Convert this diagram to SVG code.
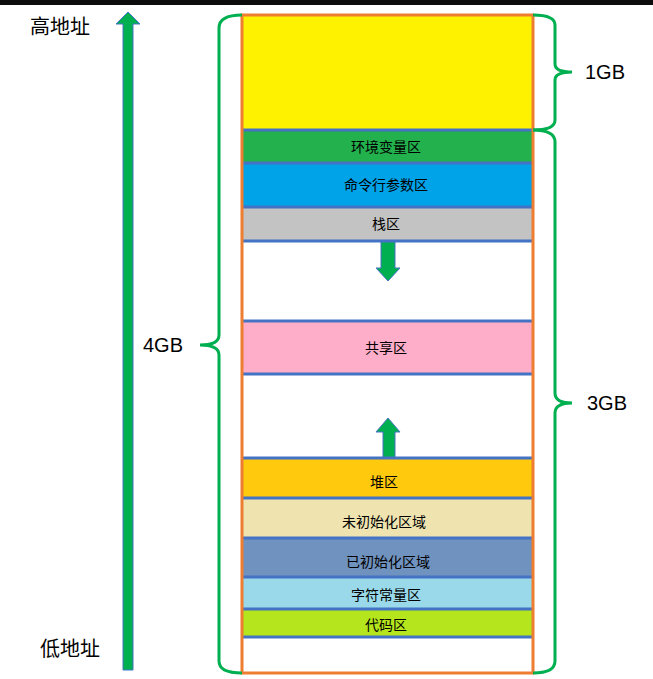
<svg xmlns="http://www.w3.org/2000/svg" width="653" height="679" viewBox="0 0 653 679">
<style>
.r{stroke:none}
.sep{stroke:#4472C4;stroke-width:3}
.t{font-family:"Noto Sans CJK SC",sans-serif;font-size:14px;text-anchor:middle;fill:#000}
.big{font-family:"Liberation Serif","Noto Sans CJK SC",serif;font-size:20px;fill:#000}
.gb{font-family:"Liberation Sans",sans-serif;font-size:20px;fill:#000}
.br{fill:none;stroke:#00B050;stroke-width:3}
.ar{fill:#00B050;stroke:#4472C4;stroke-width:1}
</style>
<rect x="0" y="0" width="653" height="5" fill="#0d0d0d"/>
<rect x="0" y="5" width="653" height="674" fill="#fff"/>
<g id="arrow-main"><path class="ar" d="M123,670 V24 H116 L128,12 L140,24 H133 V670 Z"/></g>
<text class="big" x="30" y="34">高地址</text>
<text class="big" x="40" y="656">低地址</text>
<g id="regions">
<rect class="r" x="243" y="16" width="290" height="114" fill="#FFF200"/>
<g id="env"><rect class="r" x="243" y="130" width="290" height="33" fill="#22B14C"/><text class="t" x="386" y="152">环境变量区</text></g>
<g id="cmd"><rect class="r" x="243" y="163" width="290" height="44" fill="#00A2E8"/><text class="t" x="386" y="190">命令行参数区</text></g>
<g id="stack"><rect class="r" x="243" y="207" width="290" height="34" fill="#C3C3C3"/><text class="t" x="386" y="229">栈区</text></g>
<g id="shared"><rect class="r" x="243" y="321" width="290" height="53" fill="#FFAEC9"/><text class="t" x="386" y="353">共享区</text></g>
<g id="heap"><rect class="r" x="243" y="458" width="290" height="40" fill="#FFC90E"/><text class="t" x="384" y="487">堆区</text></g>
<g id="bss"><rect class="r" x="243" y="498" width="290" height="40" fill="#EFE4B0"/><text class="t" x="384" y="527">未初始化区域</text></g>
<g id="data"><rect class="r" x="243" y="538" width="290" height="39" fill="#7092BE"/><text class="t" x="388" y="567">已初始化区域</text></g>
<g id="rodata"><rect class="r" x="243" y="577" width="290" height="32" fill="#99D9EA"/><text class="t" x="386" y="600">字符常量区</text></g>
<g id="text"><rect class="r" x="243" y="609" width="290" height="28" fill="#B5E61D"/><text class="t" x="386" y="630">代码区</text></g>
</g>
<g id="connectors">
<line class="sep" x1="243" y1="130" x2="533" y2="130"/>
<line class="sep" x1="243" y1="163" x2="533" y2="163"/>
<line class="sep" x1="243" y1="207" x2="533" y2="207"/>
<line class="sep" x1="243" y1="241" x2="533" y2="241"/>
<line class="sep" x1="243" y1="321" x2="533" y2="321"/>
<line class="sep" x1="243" y1="374" x2="533" y2="374"/>
<line class="sep" x1="243" y1="458" x2="533" y2="458"/>
<line class="sep" x1="243" y1="498" x2="533" y2="498"/>
<line class="sep" x1="243" y1="538" x2="533" y2="538"/>
<line class="sep" x1="243" y1="577" x2="533" y2="577"/>
<line class="sep" x1="243" y1="609" x2="533" y2="609"/>
<line class="sep" x1="243" y1="637" x2="533" y2="637"/>
<path class="ar" d="M381,242 V268 H376 L388,281 L400,268 H395 V242 Z"/>
<path class="ar" d="M383,457 V432 H376 L388,418 L400,432 H395 V457 Z"/>
</g>
<rect x="242" y="15" width="291" height="658" fill="none" stroke="#ED7D31" stroke-width="3"/>
<g id="braces">
<path class="br" d="M242,15 Q219,15 219,28 V335 Q219,345 200,345 Q219,345 219,355 V661 Q219,673 242,673"/>
<path class="br" d="M533,15 Q555,15 555,25 V64 Q555,72 572,72 Q555,72 555,80 V120 Q555,130 533,130"/>
<path class="br" d="M533,130 Q555,130 555,142 V393 Q555,403 572,403 Q555,403 555,413 V661 Q555,673 533,673"/>
</g>
<text class="gb" x="143" y="352">4GB</text>
<text class="gb" x="585" y="79">1GB</text>
<text class="gb" x="587" y="410">3GB</text>
</svg>
